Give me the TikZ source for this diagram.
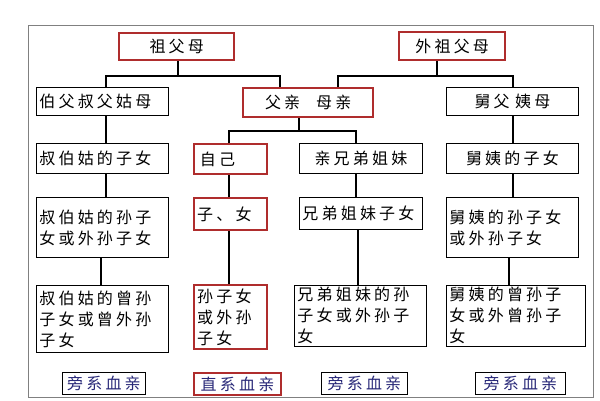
\documentclass[tikz,border=0pt]{standalone}
\usepackage{fontspec}
\newfontfamily\cjk[LetterSpace=20]{Noto Sans CJK SC}
\definecolor{rd}{RGB}{175,45,45}
\definecolor{nv}{RGB}{40,40,120}
\begin{document}
\begin{tikzpicture}[x=1pt,y=-1pt,
  bx/.style={draw=black,line width=0.8pt,inner sep=2pt,align=left,anchor=north west,font=\cjk\fontsize{16}{21}\selectfont},
  rb/.style={bx,draw=rd,line width=2.4pt},
  bc/.style={bx,align=center},
  rc/.style={rb,align=center},
  lab/.style={bx,text=nv,line width=0.8pt,align=center},
  ln/.style={line width=1.1pt}]
\useasboundingbox (0,0) rectangle (600,400);
\fill[white] (0,0) rectangle (600,400);
\draw[gray,line width=0.8pt] (28,25) rectangle (593,397);
\newcommand\bxn[7]{\node[#6,minimum width={#4-#2},minimum height={#5-#3},text width={#4-#2-6}] (#1) at (#2,#3) {#7};}
\bxn{zfm}{118}{32}{233}{59}{rc}{祖父母}
\bxn{wzfm}{398}{31}{504}{59}{rc}{外祖父母}
\bxn{bf}{36}{87}{168}{115}{bx}{伯父叔父姑母}
\bxn{fq}{242}{87}{372}{116}{rc}{父亲\quad 母亲}
\bxn{jf}{446}{87}{578}{115}{bc}{舅父 姨母}
\bxn{sb}{36}{143}{168}{173}{bx}{叔伯姑的子女}
\bxn{zj}{193}{143}{266}{173}{rb}{\,自己}
\bxn{xd}{299}{143}{422}{173}{bc}{亲兄弟姐妹}
\bxn{jy}{446}{143}{578}{173}{bc}{舅姨的子女}
\bxn{sb2}{36}{197}{168}{257}{bx}{叔伯姑的孙子\\女或外孙子女}
\bxn{zn}{193}{197}{266}{229}{rb}{子、女}
\bxn{xd2}{299}{197}{422}{229}{bx}{兄弟姐妹子女}
\bxn{jy2}{446}{197}{578}{257}{bx}{舅姨的孙子女\\或外孙子女}
\bxn{sb3}{36}{285}{168}{352}{bx}{叔伯姑的曾孙\\子女或曾外孙\\子女}
\bxn{sz}{193}{284}{266}{348}{rb}{孙子女\\或外孙\\子女}
\bxn{xd3}{294}{285}{426}{345}{bx}{兄弟姐妹的孙\\子女或外孙子\\女}
\bxn{jy3}{446}{285}{585}{345}{bx}{舅姨的曾孙子\\女或外曾孙子\\女}
\node[lab,draw=black,minimum width=83,minimum height=22,inner sep=0pt] (l1) at (62,372) {旁系血亲};
\node[lab,draw=rd,line width=2pt,minimum width=87,minimum height=22,inner sep=0pt] (l2) at (193,372) {直系血亲};
\node[lab,draw=black,minimum width=86,minimum height=22,inner sep=0pt] (l3) at (321,372) {旁系血亲};
\node[lab,draw=black,minimum width=90,minimum height=22,inner sep=0pt] (l4) at (475,372) {旁系血亲};
\coordinate (a) at (178,76); \coordinate (b) at (437,76); \coordinate (c) at (299,131);
\draw[ln] (zfm.south -| a) -- (a);
\draw[ln] (bf.north -| 106,0) |- (a) -| (fq.north -| 280,0);
\draw[ln] (wzfm.south -| b) -- (b);
\draw[ln] (fq.north -| 338,0) |- (b) -| (jf.north -| 513,0);
\draw[ln] (fq.south -| c) -- (c);
\draw[ln] (zj.north -| 229,0) |- (c) -| (xd.north -| 356,0);
\draw[ln] (bf.south -| 106,0) -- (sb.north -| 106,0);
\draw[ln] (jf.south -| 513,0) -- (jy.north -| 513,0);
\draw[ln] (sb.south -| 106,0) -- (sb2.north -| 106,0);
\draw[ln] (zj.south -| 229,0) -- (zn.north -| 229,0);
\draw[ln] (xd.south -| 356,0) -- (xd2.north -| 356,0);
\draw[ln] (jy.south -| 513,0) -- (jy2.north -| 513,0);
\draw[ln] (sb2.south -| 101,0) -- (sb3.north -| 101,0);
\draw[ln] (zn.south -| 229,0) -- (sz.north -| 229,0);
\draw[ln] (xd2.south -| 358,0) -- (xd3.north -| 358,0);
\draw[ln] (jy2.south -| 509,0) -- (jy3.north -| 509,0);
\end{tikzpicture}
\end{document}
